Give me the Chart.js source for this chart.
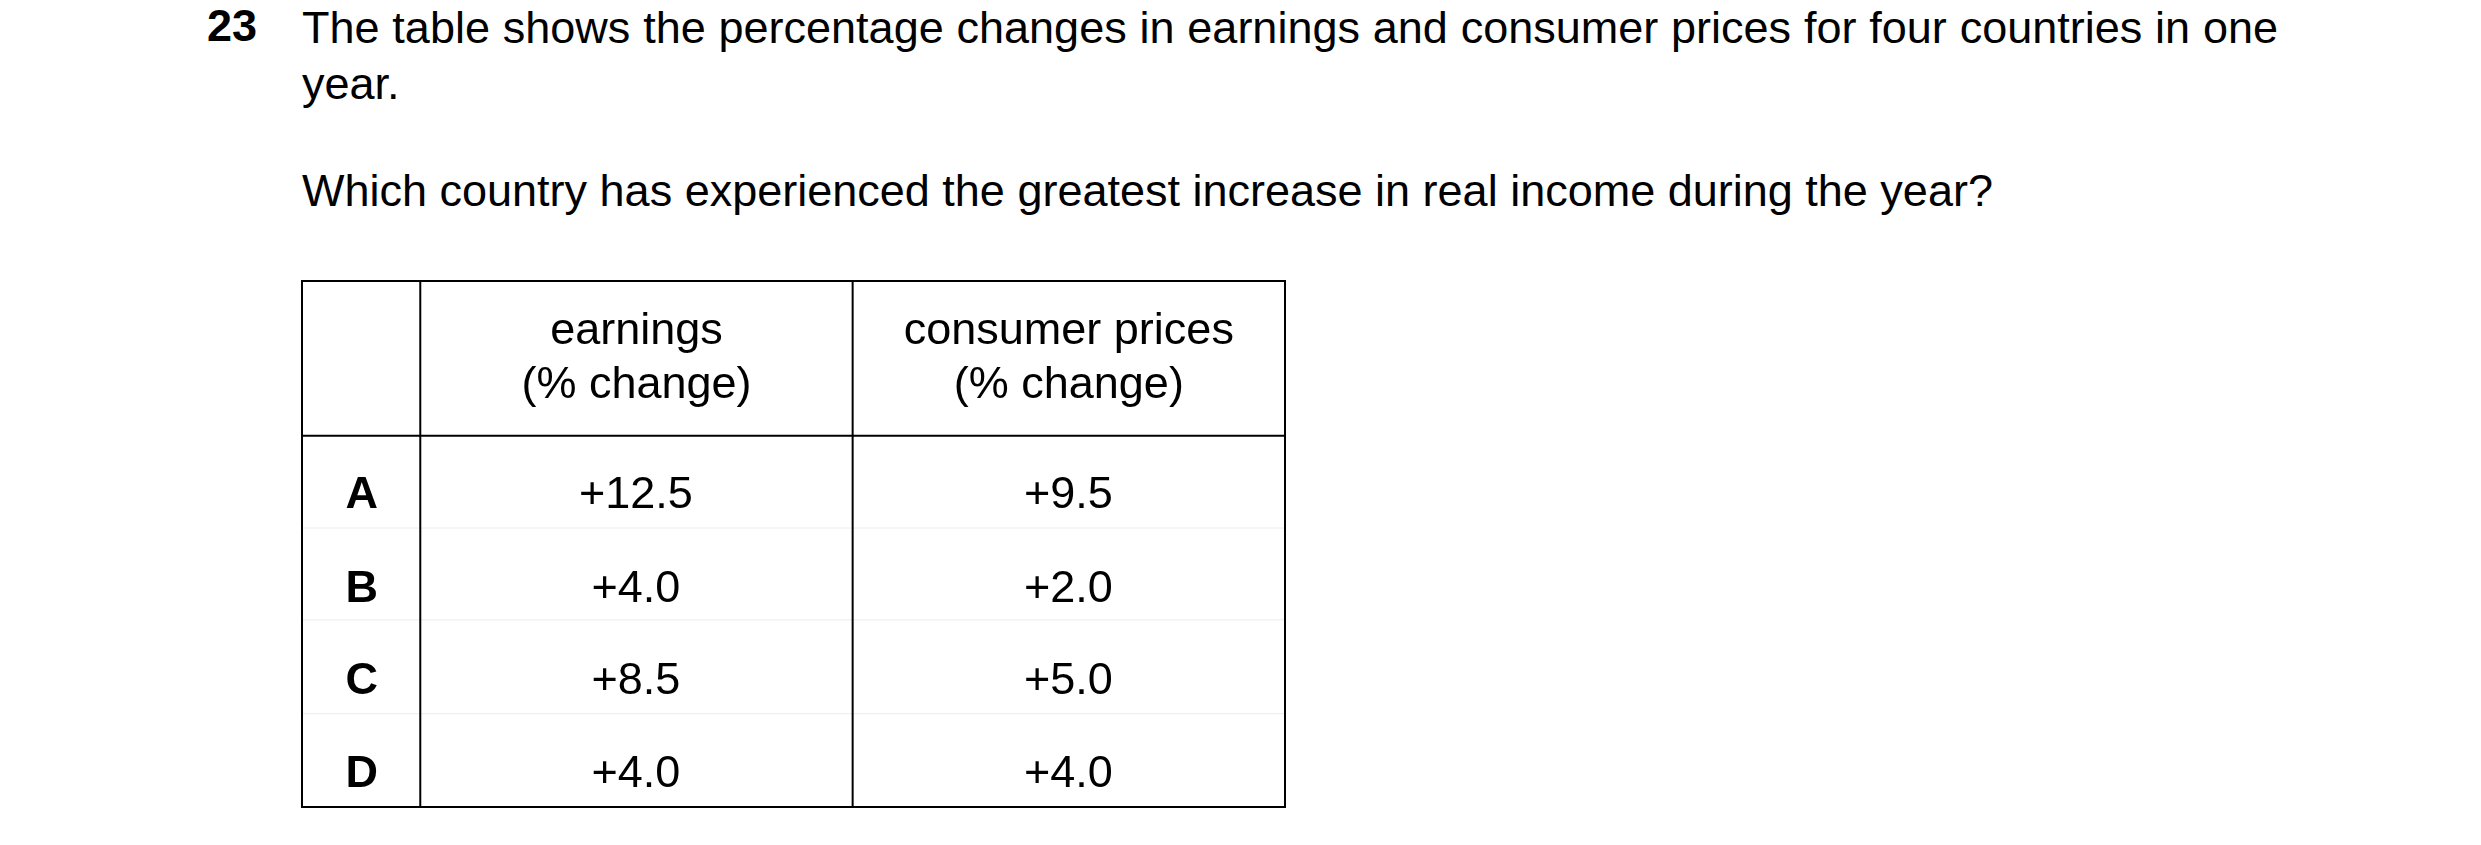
<!DOCTYPE html>
<html><head><meta charset="utf-8">
<script src="https://cdn.jsdelivr.net/npm/chart.js@4.4.0/dist/chart.umd.min.js"></script>
<style>
html,body{margin:0;padding:0;background:#fff;width:2481px;height:845px;overflow:hidden;font-family:"Liberation Sans",Arial,sans-serif;color:#000}
#num{position:absolute;left:207px;top:0px;font-size:45px;font-weight:bold}
#q{position:absolute;left:302px;top:0px;width:1976px;font-size:45px;line-height:56px;text-align:justify}
#q2{position:absolute;left:302px;top:165px;font-size:45px}
#wrap{position:absolute;left:0;top:0;width:2481px;height:845px}
</style></head><body>
<div id="num">23</div>
<div id="q">The table shows the percentage changes in earnings and consumer prices for four countries in one year.</div>
<div id="q2">Which country has experienced the greatest increase in real income during the year?</div>
<div id="wrap"><canvas id="c" width="2481" height="845"></canvas></div>
<script>
const countries = ["A","B","C","D"];
const earnings = ["+12.5","+4.0","+8.5","+4.0"];
const consumerPrices = ["+9.5","+2.0","+5.0","+4.0"];
const headers = [["earnings","(% change)"],["consumer prices","(% change)"]];

const colBounds=[0,119,554,989];
const rowBounds=[0,155,247,339,433,527];
const rowText=[215,309,401,495];

const tablePlugin={id:'tbl',afterDraw(chart){
  const ctx=chart.ctx, xs=chart.scales.x, ys=chart.scales.y;
  const X=v=>xs.getPixelForValue(v), Y=v=>ys.getPixelForValue(v);
  ctx.save();
  ctx.strokeStyle='#ececec';ctx.lineWidth=1;
  for(let i=2;i<5;i++){ctx.beginPath();ctx.moveTo(X(0),Y(rowBounds[i])+0.5);ctx.lineTo(X(989),Y(rowBounds[i])+0.5);ctx.stroke();}
  ctx.strokeStyle='#000';ctx.lineWidth=2;
  ctx.strokeRect(X(0),Y(0),X(989)-X(0),Y(527)-Y(0));
  ctx.beginPath();ctx.moveTo(X(0),Y(155));ctx.lineTo(X(989),Y(155));
  [119,554].forEach(v=>{ctx.moveTo(X(v),Y(0));ctx.lineTo(X(v),Y(527));});
  ctx.stroke();
  ctx.fillStyle='#000';ctx.textAlign='center';ctx.textBaseline='middle';
  ctx.font='45px "Liberation Sans", Arial, sans-serif';
  headers.forEach((h,j)=>{const cx=X((colBounds[j+1]+colBounds[j+2])/2);
    ctx.fillText(h[0],cx,Y(51));ctx.fillText(h[1],cx,Y(105));});
  countries.forEach((c,i)=>{
    ctx.font='bold 45px "Liberation Sans", Arial, sans-serif';
    ctx.fillText(c,X(60),Y(rowText[i]));
    ctx.font='45px "Liberation Sans", Arial, sans-serif';
    ctx.fillText(earnings[i],X(336),Y(rowText[i]));
    ctx.fillText(consumerPrices[i],X(771),Y(rowText[i]));
  });
  ctx.restore();
}};

new Chart(document.getElementById('c'),{
  type:'scatter',
  data:{datasets:[{data:countries.map((c,i)=>({x:60,y:rowText[i]})),pointRadius:0}]},
  options:{responsive:false,animation:false,devicePixelRatio:1,
    layout:{padding:{left:302,right:1196,top:281,bottom:38}},
    plugins:{legend:{display:false},tooltip:{enabled:false}},
    scales:{x:{type:'linear',min:0,max:989,display:false},
            y:{type:'linear',min:0,max:527,reverse:true,display:false}}},
  plugins:[tablePlugin]
});
</script></body></html>
